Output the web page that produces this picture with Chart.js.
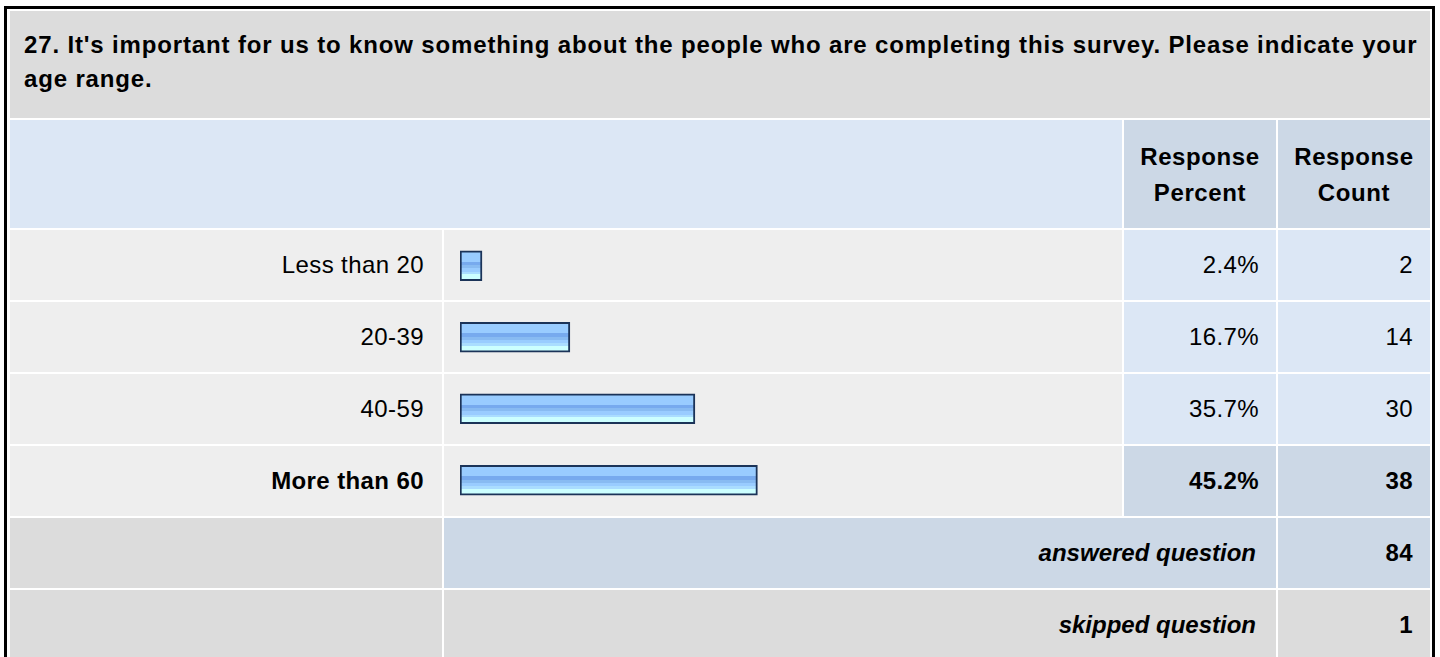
<!DOCTYPE html>
<html>
<head>
<meta charset="utf-8">
<title>Age range</title>
<script src="https://cdn.jsdelivr.net/npm/chart.js@4/dist/chart.umd.min.js"></script>
<style>
  html, body { margin: 0; padding: 0; background: #fff; overflow: hidden; }
  body { width: 1440px; height: 657px; font-family: "Liberation Sans", Arial, Helvetica, sans-serif; color: #000; }

  /* outer black frame */
  #survey {
    position: absolute; left: 4px; top: 6px;
    width: 1420px;
    border: 3px solid #000;
    padding: 2px 2px 0 3px;
    display: grid;
    grid-template-columns: 432px 678px 152px 152px;
    grid-template-rows: 107px 108px 70px 70px 70px 70px 70px 70px;
    gap: 2px;
    background: #fff;
  }
  .cell { display: flex; align-items: center; justify-content: flex-end; font-size: 24px; line-height: 36px; letter-spacing: 0.4px; box-sizing: border-box; }
  .title { grid-column: 1 / 5; background: #dcdcdc; justify-content: flex-start; font-weight: bold; line-height: 34px; letter-spacing: 0.85px; padding: 0 4px 5px 14px; }
  .head-blank { grid-column: 1 / 3; background: #dce7f5; }
  .head { background: #ccd8e6; justify-content: center; text-align: center; font-weight: bold; padding-top: 2px; letter-spacing: 0.6px; }
  .label { background: #eeeeee; padding-right: 18px; }
  .barcell { background: #eeeeee; }
  .num { background: #dce7f5; padding-right: 17px; }
  .num.hi { background: #ccd8e6; }
  .b { font-weight: bold; }
  .foot-label { background: #dcdcdc; }
  .foot-text { grid-column: 2 / 4; font-weight: bold; font-style: italic; padding-right: 20px; letter-spacing: 0; }
  .foot-num { font-weight: bold; padding-right: 17px; }
  .blue { background: #ccd8e6; }
  .grey { background: #dcdcdc; }
  #chartBox { grid-column: 2; grid-row: 3 / 7; position: relative; z-index: 2; }
</style>
</head>
<body>
<div id="survey">
  <div class="cell title">27. It's important for us to know something about the people who are completing this survey. Please indicate your age range.</div>
  <div class="cell head-blank"></div>
  <div class="cell head">Response<br>Percent</div>
  <div class="cell head">Response<br>Count</div>
</div>

<script>
/* answer options and results */
const categories = ["Less than 20", "20-39", "40-59", "More than 60"];
const percents = [2.4, 16.7, 35.7, 45.2];
const counts = [2, 14, 30, 38];
const answeredCount = 84;
const skippedCount = 1;

const BAR_H = 30;

const survey = document.getElementById("survey");

function addCell(cls, text, style) {
  const d = document.createElement("div");
  d.className = "cell " + cls;
  if (text !== undefined) d.textContent = text;
  if (style) d.setAttribute("style", style);
  survey.appendChild(d);
  return d;
}

/* rows: label | bar column (background) | percent | count */
const topIdx = percents.indexOf(Math.max(...percents));
categories.forEach((cat, i) => {
  const row = i + 3;
  const hi = i === topIdx;
  addCell("label" + (hi ? " b" : ""), cat, "grid-row:" + row + ";grid-column:1");
  addCell("barcell", undefined, "grid-row:" + row + ";grid-column:2");
  addCell("num" + (hi ? " hi b" : ""), percents[i].toFixed(1) + "%", "grid-row:" + row + ";grid-column:3");
  addCell("num" + (hi ? " hi b" : ""), String(counts[i]), "grid-row:" + row + ";grid-column:4");
});

/* totals */
addCell("foot-label", undefined, "grid-row:7;grid-column:1");
addCell("foot-text blue", "answered question", "grid-row:7");
addCell("foot-num blue", String(answeredCount), "grid-row:7;grid-column:4");
addCell("foot-label", undefined, "grid-row:8;grid-column:1");
addCell("foot-text grey", "skipped question", "grid-row:8");
addCell("foot-num grey", String(skippedCount), "grid-row:8;grid-column:4");

/* chart layer over the bar column */
const box = document.createElement("div");
box.id = "chartBox";
const cv = document.createElement("canvas");
cv.id = "ageChart";
box.appendChild(cv);
survey.appendChild(box);

/* striped blue fill, one gradient per bar */
function barFill(c) {
  const chart = c.chart;
  const yScale = chart.scales.y;
  if (!yScale || c.dataIndex === undefined) return "#99ccff";
  const mid = yScale.getPixelForValue(c.dataIndex);
  if (!isFinite(mid)) return "#99ccff";
  const top = mid - BAR_H / 2;
  const g = chart.ctx.createLinearGradient(0, top, 0, top + BAR_H);
  const bands = [
    [0.00, "#99ccff"], [0.36, "#99ccff"],
    [0.36, "#77aaee"], [0.48, "#77aaee"],
    [0.48, "#88bbf2"], [0.59, "#88bbf2"],
    [0.59, "#99ccff"], [0.70, "#99ccff"],
    [0.70, "#aaddff"], [0.79, "#aaddff"],
    [0.79, "#ccffff"], [1.00, "#ccffff"]
  ];
  bands.forEach(b => g.addColorStop(b[0], b[1]));
  return g;
}

new Chart(cv, {
  type: "bar",
  data: {
    labels: categories,
    datasets: [{
      data: percents,
      backgroundColor: barFill,
      borderColor: "#1b3358",
      borderWidth: 2,
      borderSkipped: false,
      barThickness: BAR_H,
      minBarLength: 22
    }]
  },
  options: {
    indexAxis: "y",
    responsive: true,
    maintainAspectRatio: false,
    animation: false,
    events: [],
    layout: { padding: { left: 16, right: 4, top: 0, bottom: 0 } },
    plugins: {
      legend: { display: false },
      tooltip: { enabled: false }
    },
    scales: {
      x: { min: 0, max: 100, display: false },
      y: { display: false }
    }
  }
});
</script>
</body>
</html>
